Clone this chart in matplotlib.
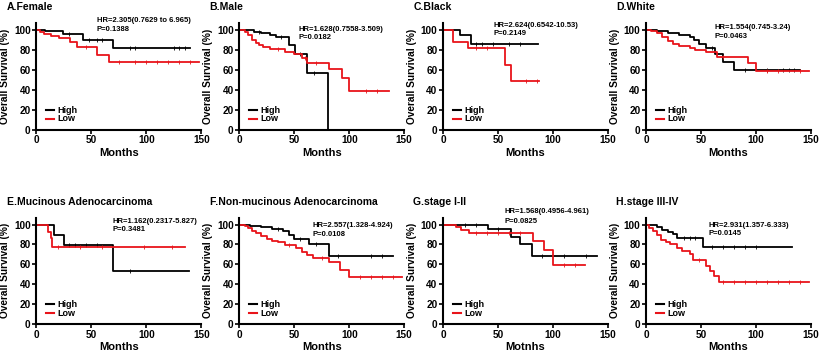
import numpy as np
import matplotlib
matplotlib.use("Agg")
import matplotlib.pyplot as plt

plt.rcParams['font.family'] = ['Liberation Sans', 'DejaVu Sans']
plt.rcParams['font.weight'] = 'bold'

# Panel titles and stats
titles = ["A.Female", "B.Male", "C.Black", "D.White",
          "E.Mucinous Adenocarcinoma", "F.Non-mucinous Adenocarcinoma",
          "G.stage I-II", "H.stage III-IV"]
hr_text = ["HR=2.305(0.7629 to 6.965)", "HR=1.628(0.7558-3.509)",
           "HR=2.624(0.6542-10.53)", "HR=1.554(0.745-3.24)",
           "HR=1.162(0.2317-5.827)", "HR=2.557(1.328-4.924)",
           "HR=1.568(0.4956-4.961)", "HR=2.931(1.357-6.333)"]
p_text = ["P=0.1388", "P=0.0182", "P=0.2149", "P=0.0463",
          "P=0.3481", "P=0.0108", "P=0.0825", "P=0.0145"]
xlabels = ["Months"] * 6 + ["Motnhs", "Months"]
# text anchor (months, % for HR line, % for P line)
txt_x = [55, 54, 46, 62, 69, 67, 56, 57]
txt_hr_y = [110, 101, 105, 103, 103, 99, 113, 99]
txt_p_y = [101, 93, 97, 94, 95, 90, 103, 91]

# High group: event times, survival after each event, last follow-up, censor times
high_t = [[8, 24, 42, 70],
          [13, 20, 28, 33, 45, 51, 62, 81],
          [15, 25],
          [10, 20, 30, 40, 44, 48, 55, 63, 70, 80],
          [16, 25, 70],
          [10, 20, 30, 40, 45, 50, 63, 82],
          [41, 62, 70, 81],
          [10, 15, 20, 25, 28, 52]]
high_s = [[99, 96, 90, 82],
          [98, 97, 95, 93, 85, 76, 57, 0],
          [95, 86],
          [99, 97, 95, 93, 90, 86, 82, 76, 68, 60],
          [90, 79, 53],
          [99, 98, 96, 94, 90, 86, 80, 68],
          [96, 88, 80, 68],
          [98, 95, 93, 91, 87, 77]]
high_end = [140, 81, 86, 140, 139, 140, 140, 133]
high_c = [[30, 48, 55, 60, 85, 90, 125, 130, 135],
          [18, 38, 55, 68],
          [30, 35, 45, 60, 70],
          [60, 90, 110, 125, 130, 135],
          [30, 35, 45, 55, 85],
          [35, 55, 70, 90, 120, 130],
          [20, 30, 50, 90, 110, 130],
          [35, 40, 45, 60, 70, 80, 90, 100]]

# Low group
low_t = [[3, 7, 13, 21, 31, 37, 55, 66],
         [5, 8, 12, 15, 18, 22, 28, 42, 50, 57, 62, 82, 93, 100],
         [9, 23, 56, 62],
         [5, 10, 15, 20, 25, 30, 40, 45, 55, 65, 93, 100],
         [11, 13, 14],
         [5, 8, 12, 15, 20, 25, 30, 35, 42, 52, 57, 62, 67, 82, 92, 100],
         [12, 16, 24, 82, 92, 100],
         [3, 6, 10, 14, 18, 22, 28, 33, 40, 43, 55, 58, 62, 66]]
low_s = [[98, 96, 94, 92, 88, 83, 75, 68],
         [98, 95, 90, 87, 85, 83, 81, 78, 76, 72, 67, 61, 52, 39],
         [88, 82, 65, 49],
         [99, 97, 93, 89, 86, 84, 82, 80, 78, 73, 67, 59],
         [93, 87, 77],
         [99, 97, 94, 92, 89, 86, 84, 82, 79, 76, 72, 69, 66, 62, 54, 47],
         [98, 95, 92, 84, 74, 59],
         [97, 94, 90, 85, 83, 80, 76, 73, 70, 64, 58, 53, 48, 42]]
low_end = [148, 136, 87, 148, 135, 148, 129, 148]
low_c = [[45, 75, 90, 100, 110, 120, 130, 140],
         [35, 60, 70, 115, 125],
         [30, 40, 75, 85],
         [70, 110, 120, 140],
         [20, 40, 60, 98, 123],
         [45, 75, 110, 120, 130, 140],
         [30, 40, 50, 60, 70, 110, 120],
         [48, 70, 80, 90, 100, 110, 120, 130, 140]]

lefts = [0.044, 0.290, 0.537, 0.783]
bottoms = [0.634, 0.087]
W, H = 0.200, 0.300

fig = plt.figure(figsize=(8.25, 3.55), dpi=100)


def km(ax, t, s, end, cens, color):
    x = [0] + t + [end]
    y = [100] + s + [s[-1]]
    ax.plot(x, y, drawstyle='steps-post', color=color, lw=1.3)
    tt = np.array([0] + t)
    ss = np.array([100] + s)
    cx = [c for c in cens if c <= end]
    cy = [ss[np.searchsorted(tt, c, side='right') - 1] for c in cx]
    ax.plot(cx, cy, ls='none', marker='|', ms=2.5, mew=0.6, color=color)


for i in range(8):
    r, c = divmod(i, 4)
    ax = fig.add_axes([lefts[c], bottoms[r], W, H])
    km(ax, high_t[i], high_s[i], high_end[i], high_c[i], 'black')
    km(ax, low_t[i], low_s[i], low_end[i], low_c[i], '#e8141a')
    ax.set_xlim(0, 150)
    ax.set_ylim(0, 107)
    ax.set_xticks([0, 50, 100, 150])
    ax.set_yticks([0, 20, 40, 60, 80, 100])
    for sp in ['top', 'right']:
        ax.spines[sp].set_visible(False)
    for sp in ['left', 'bottom']:
        ax.spines[sp].set_linewidth(1.5)
    ax.tick_params(width=1.2, length=3, labelsize=7.2, pad=1)
    for lab in ax.get_xticklabels() + ax.get_yticklabels():
        lab.set_fontweight('bold')
    ax.set_xlabel(xlabels[i], fontsize=8, fontweight='bold', labelpad=2)
    ax.set_ylabel("Overall Survival (%)", fontsize=7.3, fontweight='bold')
    ax.yaxis.set_label_coords(-0.16, 0.5)
    ax.text(txt_x[i], txt_hr_y[i], hr_text[i], fontsize=5.5, fontweight='bold', va='center')
    ax.text(txt_x[i], txt_p_y[i], p_text[i], fontsize=5.5, fontweight='bold', va='center')
    ax.text(-0.18, 1.15, titles[i], transform=ax.transAxes, fontsize=7.5,
            fontweight='bold', va='center', ha='left')
    # legend
    ax.plot([9, 16], [20, 20], color='black', lw=1.5)
    ax.plot([9, 16], [11, 11], color='#e8141a', lw=1.5)
    ax.text(19, 20, "High", fontsize=6.5, fontweight='bold', va='center')
    ax.text(19, 11, "Low", fontsize=6.5, fontweight='bold', va='center')

fig.savefig("out.png", dpi=100)
